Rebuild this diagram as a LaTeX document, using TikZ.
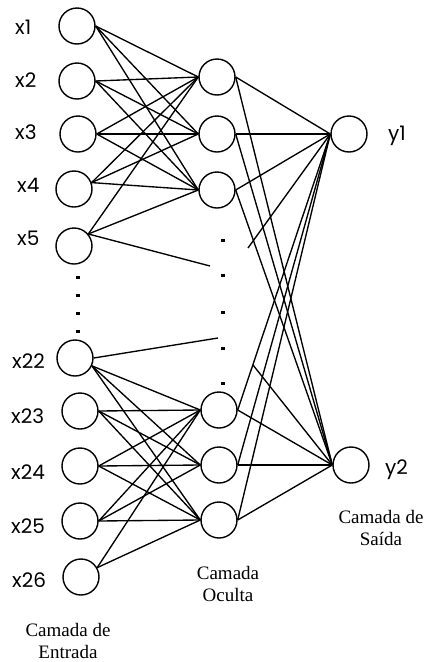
\documentclass[tikz,border=0pt]{standalone}
\usepackage{fontspec}
\setmainfont{Liberation Serif}
\newfontfamily\lblfont{Poppins}
\begin{document}
\begin{tikzpicture}[x=1pt,y=-1pt,
  neuron/.style={circle,draw,line width=1.4pt,minimum size=36pt,inner sep=0pt},
  conn/.style={line width=1.35pt},
  lbl/.style={font=\lblfont\fontsize{20}{22}\selectfont,inner sep=0pt},
  capt/.style={font=\fontsize{19}{22}\selectfont,align=center,inner sep=0pt},
  dotmark/.style={rectangle,fill,inner sep=0pt,minimum width=3.6pt,minimum height=3pt}]
\useasboundingbox (0,0) rectangle (425,662);

% input layer
\node[neuron] (i1)  at (77,26)  {};
\node[neuron] (i2)  at (77,81)  {};
\node[neuron] (i3)  at (78,134) {};
\node[neuron] (i4)  at (74,189) {};
\node[neuron] (i5)  at (74,246) {};
\node[neuron] (i22) at (75,358) {};
\node[neuron] (i23) at (80,411) {};
\node[neuron] (i24) at (80,466) {};
\node[neuron] (i25) at (80,521) {};
\node[neuron] (i26) at (81,577) {};

% hidden layer
\node[neuron] (h1) at (217,77)  {};
\node[neuron] (h2) at (217,134) {};
\node[neuron] (h3) at (217,190) {};
\node[neuron] (h4) at (219,410) {};
\node[neuron] (h5) at (219,465) {};
\node[neuron] (h6) at (219,520) {};

% output layer
\node[neuron] (o1) at (349,134) {};
\node[neuron] (o2) at (351,465) {};

% labels
\node[lbl,anchor=west] (l1)  at (15,27)  {x1};
\node[lbl,anchor=west] (l2)  at (15,80)  {x2};
\node[lbl,anchor=west] (l3)  at (15,132) {x3};
\node[lbl,anchor=west] (l4)  at (17,185) {x4};
\node[lbl,anchor=west] (l5)  at (17,238) {x5};
\node[lbl,anchor=west] (l22) at (12,361) {x22};
\node[lbl,anchor=west] (l23) at (11,416) {x23};
\node[lbl,anchor=west] (l24) at (11,472) {x24};
\node[lbl,anchor=west] (l25) at (11,526) {x25};
\node[lbl,anchor=west] (l26) at (12,580) {x26};
\node[lbl,anchor=base west] (ly1) at (388,140) {y1};
\node[lbl,anchor=base west] (ly2) at (385,474) {y2};

% captions
\node[capt] (c1) at (68,641)  {Camada de\\Entrada};
\node[capt] (c2) at (228,584) {Camada\\Oculta};
\node[capt] (c3) at (381,528) {Camada de\\Saída};

% ellipsis dots
\node[dotmark] (d1) at (78,277) {};
\node[dotmark] (d2) at (78,295) {};
\node[dotmark] (d3) at (78,313) {};
\node[dotmark] (d4) at (78,331) {};
\node[dotmark] (e1) at (223,240) {};
\node[dotmark] (e2) at (223,275) {};
\node[dotmark] (e3) at (223,312) {};
\node[dotmark] (e4) at (223,348) {};
\node[dotmark] (e5) at (223,383) {};

% free ends
\coordinate (f5)  at (210,266);
\coordinate (f22) at (218,338);
\coordinate (fy1) at (248,248);
\coordinate (fy2) at (253,365);

% input -> hidden (upper)
\foreach \s in {i1,i2,i3} {
  \foreach \t in {h1,h2,h3} { \draw[conn] (\s.east) -- (\t.west); }
}
\foreach \t in {h1,h2,h3} { \draw[conn] (i4.20) -- (\t.west); }
\draw[conn] (i5.40) -- (h1.west);
\draw[conn] (i5.40) -- (h3.west);
\draw[conn] (i5.40) -- (f5);

% input -> hidden (lower)
\draw[conn] (i22.east) -- (f22);
\foreach \t in {h4,h5,h6} { \draw[conn] (i22.-25) -- (\t.west); }
\foreach \s in {i23,i24,i25} {
  \foreach \t in {h4,h5,h6} { \draw[conn] (\s.east) -- (\t.west); }
}
\draw[conn] (i26.30) -- (h4.west);
\draw[conn] (i26.30) -- (h6.west);

% hidden -> output
\foreach \s in {h1,h2,h3,h4,h5,h6} {
  \draw[conn] (\s.east) -- (o1.west);
  \draw[conn] (\s.east) -- (o2.west);
}
\draw[conn] (o1.west) -- (fy1);
\draw[conn] (o2.west) -- (fy2);
\end{tikzpicture}
\end{document}
